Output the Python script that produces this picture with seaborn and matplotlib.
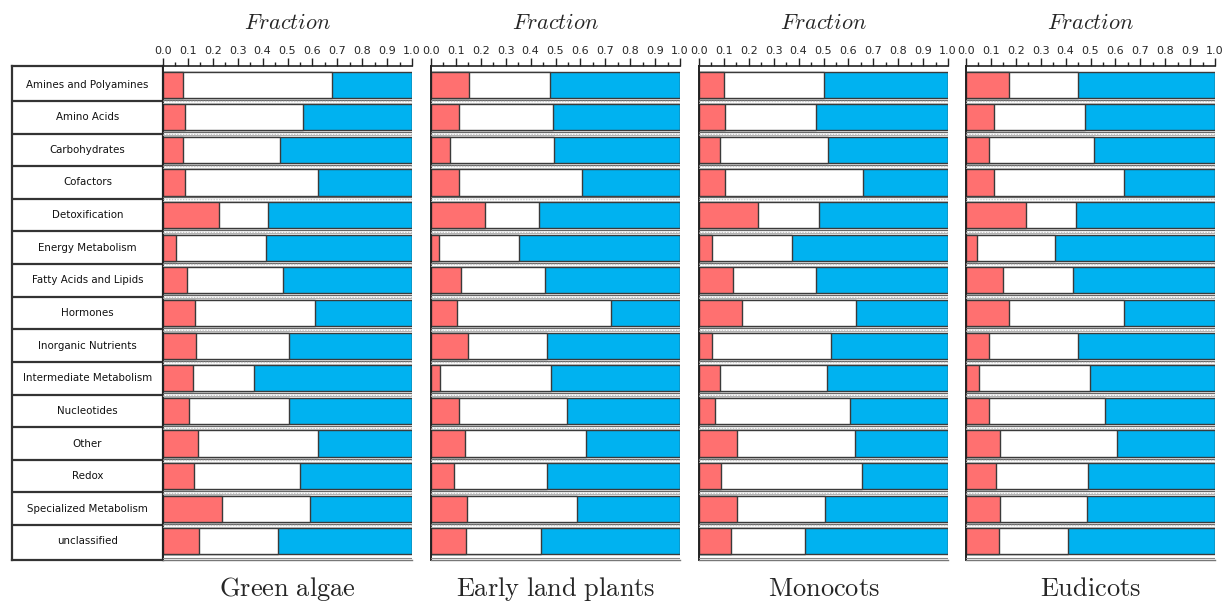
import numpy as np
import matplotlib
matplotlib.use("Agg")
import matplotlib.pyplot as plt
import seaborn as sns
from matplotlib.ticker import MultipleLocator

sns.set_style("white")
plt.rcParams["mathtext.fontset"] = "cm"
plt.rcParams["font.family"] = ["DejaVu Sans"]

categories = ["Amines and Polyamines", "Amino Acids", "Carbohydrates", "Cofactors",
              "Detoxification", "Energy Metabolism", "Fatty Acids and Lipids", "Hormones",
              "Inorganic Nutrients", "Intermediate Metabolism", "Nucleotides", "Other",
              "Redox", "Specialized Metabolism", "unclassified"]

groups = ["Green algae", "Early land plants", "Monocots", "Eudicots"]

# red segment (left) and white segment (middle); blue is the rest of 1.0
red_green = [0.082, 0.088, 0.080, 0.088, 0.226, 0.053, 0.098, 0.128, 0.131, 0.122, 0.106, 0.142, 0.126, 0.237, 0.144]
white_green = [0.597, 0.475, 0.388, 0.536, 0.195, 0.361, 0.383, 0.482, 0.374, 0.243, 0.402, 0.482, 0.426, 0.353, 0.316]

red_early = [0.153, 0.111, 0.078, 0.114, 0.216, 0.031, 0.122, 0.103, 0.147, 0.035, 0.112, 0.135, 0.094, 0.143, 0.141]
white_early = [0.325, 0.379, 0.415, 0.492, 0.218, 0.322, 0.336, 0.619, 0.318, 0.447, 0.436, 0.487, 0.372, 0.445, 0.301]

red_mono = [0.099, 0.103, 0.086, 0.105, 0.235, 0.051, 0.136, 0.174, 0.051, 0.083, 0.066, 0.154, 0.090, 0.152, 0.130]
white_mono = [0.402, 0.365, 0.431, 0.555, 0.248, 0.321, 0.334, 0.458, 0.478, 0.430, 0.539, 0.474, 0.564, 0.353, 0.294]

red_eudi = [0.173, 0.114, 0.091, 0.114, 0.240, 0.044, 0.150, 0.173, 0.092, 0.052, 0.092, 0.138, 0.119, 0.138, 0.131]
white_eudi = [0.278, 0.364, 0.423, 0.521, 0.200, 0.315, 0.280, 0.462, 0.358, 0.446, 0.468, 0.467, 0.371, 0.347, 0.279]

red_all = [red_green, red_early, red_mono, red_eudi]
white_all = [white_green, white_early, white_mono, white_eudi]

RED = "#FF7070"
BLUE = "#00B2F0"
EDGE = "#3a3a3a"

W, H = 1232, 604
fig = plt.figure(figsize=(W / 100, H / 100), dpi=100)

ax_bottom = 1 - 560 / H
ax_top = 1 - 66 / H
ax_h = ax_top - ax_bottom
n = len(categories)
ylim = (n - 1 + 0.57, -0.57)

# label column
axl = fig.add_axes([12 / W, ax_bottom, 151 / W, ax_h])
axl.set_xlim(0, 1)
axl.set_ylim(*ylim)
for i, c in enumerate(categories):
    axl.text(0.5, i, c, ha="center", va="center", fontsize=7.4, color="#111")
for k in range(n - 1):
    axl.axhline(k + 0.5, color="#333", lw=1.6)
axl.set_xticks([])
axl.set_yticks([])
for s in axl.spines.values():
    s.set_color("#333")
    s.set_linewidth(1.6)

lefts = [163, 431, 699, 966]
for g, left in enumerate(lefts):
    ax = fig.add_axes([left / W, ax_bottom, 249 / W, ax_h])
    red = np.array(red_all[g])
    white = np.array(white_all[g])
    blue = 1 - red - white
    total = red + white + blue
    sns.barplot(x=total, y=categories, orient="h", color=BLUE, width=0.8,
                edgecolor=EDGE, linewidth=1.0, saturation=1, ax=ax)
    sns.barplot(x=red + white, y=categories, orient="h", color="white", width=0.8,
                edgecolor=EDGE, linewidth=1.0, saturation=1, ax=ax)
    sns.barplot(x=red, y=categories, orient="h", color=RED, width=0.8,
                edgecolor=EDGE, linewidth=1.0, saturation=1, ax=ax)
    # row separators
    for k in range(n - 1):
        ax.axhline(k + 0.46, color="#666", lw=0.9, zorder=3)
        ax.axhline(k + 0.51, color="#c4c4c4", lw=1.0, ls=(0, (1, 1)), zorder=3)
        ax.axhline(k + 0.555, color="#b0b0b0", lw=0.7, zorder=3)
    ax.axhline(n - 1 + 0.5, color="#888", lw=0.8, zorder=3)
    ax.set_xlim(0, 1)
    ax.set_ylim(*ylim)
    ax.set_yticks([])
    ax.set_ylabel("")
    ax.set_xlabel("")
    ax.xaxis.tick_top()
    ax.xaxis.set_minor_locator(MultipleLocator(0.05))
    ax.set_xticks(np.round(np.arange(0, 1.01, 0.1), 1))
    ax.set_xticklabels([f"{v:.1f}" for v in np.arange(0, 1.01, 0.1)])
    ax.tick_params(axis="x", which="major", top=True, bottom=False, direction="out",
                   length=6, width=1.0, color="#222", labelsize=8, pad=1)
    ax.tick_params(axis="x", which="minor", top=True, bottom=False, direction="out",
                   length=3, width=1.0, color="#222")
    ax.spines["right"].set_visible(False)
    ax.spines["top"].set_color("#222")
    ax.spines["top"].set_linewidth(1.2)
    ax.spines["left"].set_color("#222")
    ax.spines["left"].set_linewidth(1.4)
    ax.spines["bottom"].set_color("#777")
    ax.spines["bottom"].set_linewidth(1.0)

    cx = (left + 124.5) / W
    fig.text(cx, 1 - 23 / H, r"$\mathit{Fraction}$", ha="center", va="center", fontsize=16)
    fig.text(cx, 1 - 596 / H, r"$\mathrm{" + groups[g].replace(" ", r"\ ") + "}$",
             ha="center", va="baseline", fontsize=19)

fig.savefig("out.png", dpi=100)
